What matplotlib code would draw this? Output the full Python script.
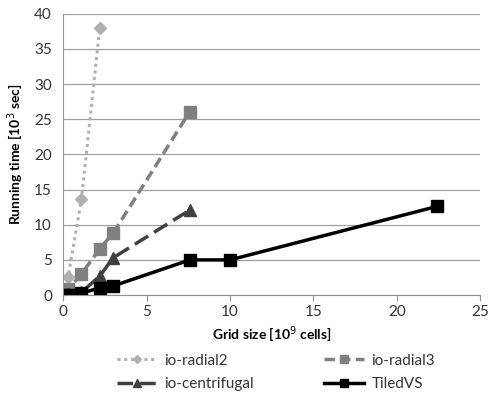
import numpy as np
import matplotlib
matplotlib.use("Agg")
from matplotlib import pyplot as plt

plt.rcParams['font.family'] = ['Lato', 'DejaVu Sans']

# grid size [10^9 cells] and running time [10^3 sec]
radial2_x = [0.06, 0.3, 1.1, 2.2]
radial2_y = [0.3, 2.6, 13.6, 38.0]

radial3_x = [0.06, 0.3, 1.1, 2.2, 3.0, 7.6]
radial3_y = [0.2, 0.8, 3.0, 6.6, 8.8, 26.1]

centrifugal_x = [0.06, 0.3, 1.1, 2.2, 3.0, 7.6]
centrifugal_y = [0.0, 0.1, 0.4, 2.7, 5.3, 12.1]

tiled_x = [0.06, 0.3, 1.1, 2.2, 3.0, 7.6, 10.0, 22.4]
tiled_y = [0.0, 0.0, 0.3, 1.0, 1.3, 5.0, 5.0, 12.6]

x_ticks = [0, 5, 10, 15, 20, 25]
y_ticks = [0, 5, 10, 15, 20, 25, 30, 35, 40]

figure = plt.figure(figsize=(4.89, 3.95), dpi=100)
axis = figure.add_axes([0.129, 0.253, 0.853, 0.712])

h_r2, = axis.plot(radial2_x, radial2_y, color='#b0b0b0', linestyle=(0, (1, 1.2)), linewidth=2.2,
                  marker='D', markersize=6, label='io-radial2')
h_r3, = axis.plot(radial3_x, radial3_y, color='#808080', linestyle=(0, (3, 1.5)), linewidth=2.5,
                  marker='s', markersize=8, label='io-radial3')
h_cf, = axis.plot(centrifugal_x, centrifugal_y, color='#404040', linestyle=(0, (4.5, 2)), linewidth=2.5,
                  marker='^', markersize=8, label='io-centrifugal')
h_tv, = axis.plot(tiled_x, tiled_y, color='black', linestyle='-', linewidth=2.5,
                  marker='s', markersize=8, label='TiledVS')

axis.set_xlim(0, 25)
axis.set_ylim(0, 40)
axis.set_xticks(x_ticks)
axis.set_yticks(y_ticks)
axis.grid(axis='y', color='#a0a0a0', linewidth=0.9)
axis.set_axisbelow(True)

for side in ['top', 'right']:
    axis.spines[side].set_visible(False)
for side in ['left', 'bottom']:
    axis.spines[side].set_color('#909090')
axis.tick_params(axis='x', direction='out', length=4, color='#909090', labelsize=11, labelcolor='#333333', pad=3)
axis.tick_params(axis='y', length=0, labelsize=11, labelcolor='#333333', pad=8)

axis.set_xlabel('Grid size [10$^9$ cells]', fontsize=10, fontweight='bold', labelpad=4)
axis.set_ylabel('Running time [10$^3$ sec]', fontsize=10, fontweight='bold', labelpad=6)

# row-major order like the original legend
handles = [h_r2, h_cf, h_r3, h_tv]
axis.legend(handles, [h.get_label() for h in handles], loc='upper center', bbox_to_anchor=(0.51, -0.16),
            ncol=2, frameon=False, fontsize=11, columnspacing=4.6, handlelength=2.6,
            markerscale=0.7, labelcolor='#333333', handletextpad=0.5, labelspacing=0.6)

figure.savefig('out.png', dpi=100)
